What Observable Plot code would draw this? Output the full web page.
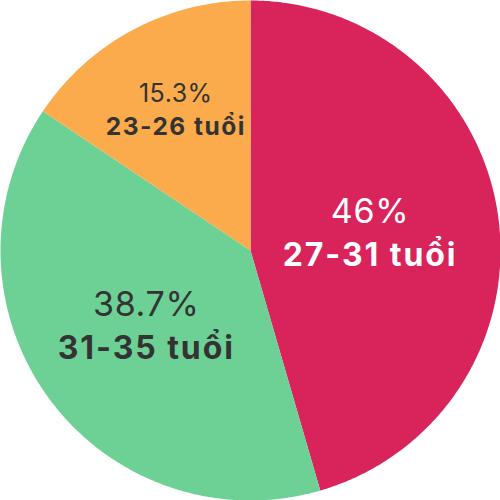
<!DOCTYPE html>
<html>
<head>
<meta charset="utf-8">
<script src="https://cdn.jsdelivr.net/npm/d3@7"></script>
<script src="https://cdn.jsdelivr.net/npm/@observablehq/plot@0.6"></script>
<style>
html,body{margin:0;padding:0;background:#fff;}
#chart svg{display:block;}
</style>
</head>
<body>
<div id="chart"></div>
<script>
const categories = ["27-31 tuổi", "31-35 tuổi", "23-26 tuổi"];
const values = [45.5, 38.9, 15.6];
const valueLabels = ["46%", "38.7%", "15.3%"];
const palette = ["#D9245B", "#6DD196", "#FBAB4B"];

const total = d3.sum(values);
const arcs = d3.pie().sort(null).startAngle(0).endAngle(2 * Math.PI)(values);
const pt = (a, r) => [r * Math.sin(a), -r * Math.cos(a)];

const slices = arcs.map((a, i) => {
  const n = Math.max(2, Math.ceil((a.endAngle - a.startAngle) / (Math.PI / 360)));
  const ring = [[0, 0]];
  for (let k = 0; k <= n; k++) ring.push(pt(a.startAngle + (a.endAngle - a.startAngle) * k / n, 1));
  ring.push([0, 0]);
  const share = values[i] / total;
  const mid = (a.startAngle + a.endAngle) / 2;
  const rl = 0.714 - 0.508 * share;
  const [cx, cy] = pt(mid, rl);
  const color = palette[i];
  return {
    type: "Feature",
    properties: {
      category: categories[i], valueLabel: valueLabels[i], color,
      cx, cy,
      big: share > 0.2,
      textColor: d3.lab(color).l < 60 ? "#ffffff" : "#333333"
    },
    geometry: {type: "Polygon", coordinates: [ring]}
  };
});

const labels = slices.map(s => s.properties);
const marks = [
  Plot.geo(slices, {fill: d => d.properties.color, stroke: "none"})
];
for (const big of [true, false]) {
  const ls = big ? 32 : 24.5;   // category label size
  const vs = big ? 34 : 25;     // percentage size
  for (const tc of ["#ffffff", "#333333"]) {
    const sub = labels.filter(d => d.big === big && d.textColor === tc);
    if (!sub.length) continue;
    marks.push(Plot.text(sub, {x: "cx", y: "cy", text: "valueLabel", fill: tc, fontSize: vs, fontWeight: 400, dy: -0.68 * ls, fontFamily: "Inter"}));
    marks.push(Plot.text(sub, {x: "cx", y: "cy", text: "category", fill: tc, fontSize: ls, fontWeight: 700, dy: 0.68 * ls, fontFamily: "Inter"}));
  }
}

const chart = Plot.plot({
  width: 500,
  height: 500,
  margin: 0,
  style: {background: "#fff", fontFamily: "Inter"},
  projection: {type: "identity", domain: {type: "MultiPoint", coordinates: [[-1, -1], [1, 1]]}, inset: 0},
  marks
});
// letter spacing: wider tracking on the bold category labels
d3.select(chart).selectAll("g[font-weight='700']").style("letter-spacing", "0.06em");
d3.select(chart).selectAll("g[font-weight='400']").style("letter-spacing", "0.02em");
document.getElementById("chart").append(chart);
</script>
</body>
</html>
